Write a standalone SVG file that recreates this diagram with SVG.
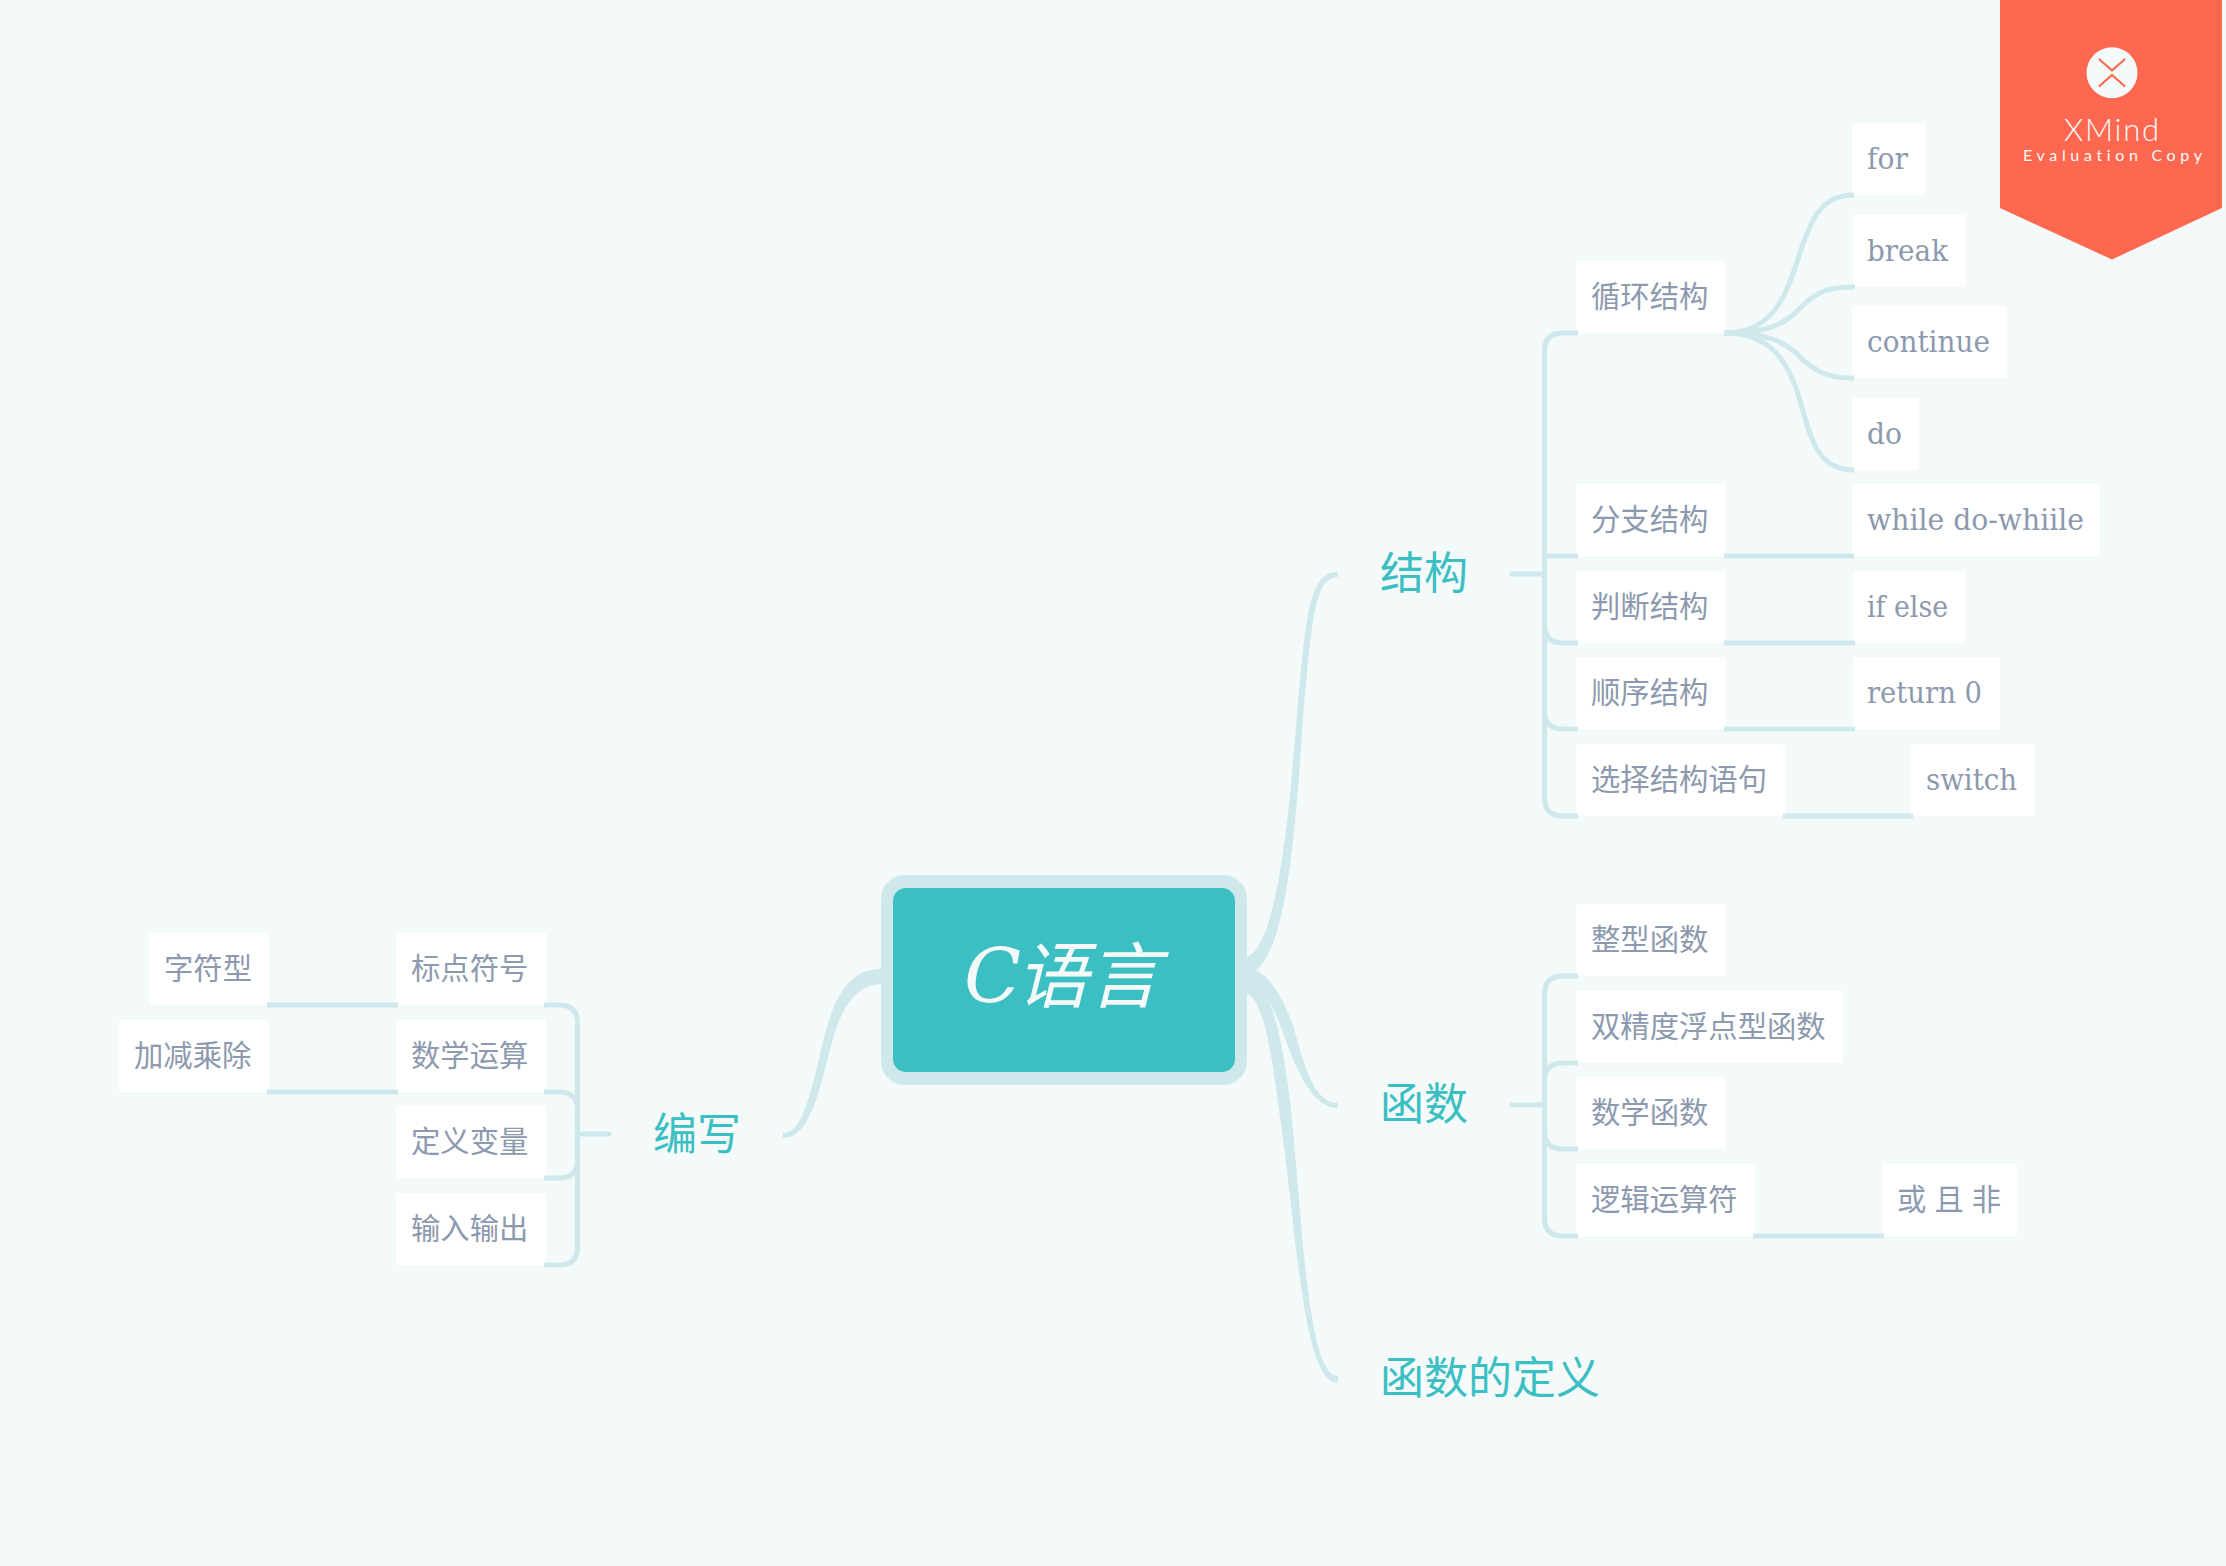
<svg xmlns="http://www.w3.org/2000/svg" width="2226" height="1566" viewBox="0 0 2226 1566">
<style>
.bg{fill:#f4faf9}
.box{fill:#ffffff}
.cn{fill:#8c99ae;font-family:"Noto Sans CJK SC","Noto Sans",sans-serif;font-size:29.33px;font-weight:400}
.la{fill:#8c99ae;font-family:"DejaVu Serif","Liberation Serif",serif;font-size:29.33px}
.topic{fill:#3bbfc3;font-family:"Noto Sans CJK SC","Noto Sans",sans-serif;font-size:44px;font-weight:400}
.root{fill:#f4faf9;font-size:74.67px;font-style:italic}
.line{fill:none;stroke:#cfe8eb;stroke-width:5}
.round{stroke-linecap:round}
.taper{fill:#cfe8eb}
.wm{fill:#f4faf9;font-family:Lato,"Open Sans",sans-serif;font-variant-ligatures:none}
</style>
<rect class="bg" x="0" y="0" width="2226" height="1566"/>
<g id="root"><rect x="881" y="875" width="366" height="210" rx="24" fill="#cfe8eb"/><rect x="893" y="888" width="342" height="184" rx="13" fill="#3bbfc3"/><text class="root" x="964" y="1002" font-family="'DejaVu Serif','Noto Sans CJK SC',serif">C<tspan x="1016" font-size="72" font-family="'Noto Sans CJK SC',sans-serif" font-weight="400">语言</tspan></text></g>
<g id="topic-jiegou"><text class="topic" x="1380" y="589">结构</text></g>
<g id="topic-hanshu"><text class="topic" x="1380" y="1120">函数</text></g>
<g id="topic-dingyi"><text class="topic" x="1380" y="1394">函数的定义</text></g>
<g id="topic-bianxie"><text class="topic" x="653" y="1150">编写</text></g>
<g id="n-for"><rect class="box" x="1852" y="123" width="74" height="72"/><text class="la" x="1867" y="169" textLength="41" lengthAdjust="spacingAndGlyphs">for</text></g>
<g id="n-break"><rect class="box" x="1853" y="215" width="113" height="72"/><text class="la" x="1867" y="261" textLength="81" lengthAdjust="spacingAndGlyphs">break</text></g>
<g id="n-continue"><rect class="box" x="1852" y="306" width="155" height="72"/><text class="la" x="1867" y="352" textLength="123" lengthAdjust="spacingAndGlyphs">continue</text></g>
<g id="n-do"><rect class="box" x="1852" y="398" width="67" height="72"/><text class="la" x="1867" y="444" textLength="35" lengthAdjust="spacingAndGlyphs">do</text></g>
<g id="n-xunhuan"><rect class="box" x="1576" y="261" width="150" height="72"/><text class="cn" x="1591" y="307">循环结构</text></g>
<g id="n-fenzhi"><rect class="box" x="1576" y="484" width="150" height="72"/><text class="cn" x="1591" y="530">分支结构</text></g>
<g id="n-while"><rect class="box" x="1852" y="484" width="248" height="72"/><text class="la" x="1867" y="530" textLength="217" lengthAdjust="spacingAndGlyphs">while do-whiile</text></g>
<g id="n-panduan"><rect class="box" x="1576" y="571" width="150" height="72"/><text class="cn" x="1591" y="617">判断结构</text></g>
<g id="n-ifelse"><rect class="box" x="1853" y="571" width="113" height="72"/><text class="la" x="1867" y="617" textLength="81" lengthAdjust="spacingAndGlyphs">if else</text></g>
<g id="n-shunxu"><rect class="box" x="1576" y="657" width="150" height="72"/><text class="cn" x="1591" y="703">顺序结构</text></g>
<g id="n-return"><rect class="box" x="1853" y="657" width="147" height="72"/><text class="la" x="1867" y="703" textLength="115" lengthAdjust="spacingAndGlyphs">return 0</text></g>
<g id="n-xuanze"><rect class="box" x="1576" y="744" width="209" height="72"/><text class="cn" x="1591" y="790">选择结构语句</text></g>
<g id="n-switch"><rect class="box" x="1911" y="744" width="123" height="72"/><text class="la" x="1926" y="790" textLength="91" lengthAdjust="spacingAndGlyphs">switch</text></g>
<g id="n-zhengxing"><rect class="box" x="1576" y="904" width="150" height="72"/><text class="cn" x="1591" y="950">整型函数</text></g>
<g id="n-shuangjingdu"><rect class="box" x="1576" y="991" width="267" height="72"/><text class="cn" x="1591" y="1037">双精度浮点型函数</text></g>
<g id="n-shuxuehanshu"><rect class="box" x="1576" y="1077" width="150" height="72"/><text class="cn" x="1591" y="1123">数学函数</text></g>
<g id="n-luoji"><rect class="box" x="1576" y="1164" width="179" height="72"/><text class="cn" x="1591" y="1210">逻辑运算符</text></g>
<g id="n-huoqiefei"><rect class="box" x="1882" y="1164" width="135" height="72"/><text class="cn" x="1897" y="1210" word-spacing="1.5">或 且 非</text></g>
<g id="n-zifuxing"><rect class="box" x="149" y="933" width="120" height="72"/><text class="cn" x="164" y="979">字符型</text></g>
<g id="n-biaodian"><rect class="box" x="396" y="933" width="150" height="72"/><text class="cn" x="411" y="979">标点符号</text></g>
<g id="n-jiajian"><rect class="box" x="119" y="1020" width="150" height="72"/><text class="cn" x="134" y="1066">加减乘除</text></g>
<g id="n-shuxueyunsuan"><rect class="box" x="396" y="1020" width="150" height="72"/><text class="cn" x="411" y="1066">数学运算</text></g>
<g id="n-dingyibianliang"><rect class="box" x="396" y="1106" width="150" height="72"/><text class="cn" x="411" y="1152">定义变量</text></g>
<g id="n-shuru"><rect class="box" x="396" y="1193" width="150" height="72"/><text class="cn" x="411" y="1239">输入输出</text></g>
<g id="connectors">
<path class="taper" d="M1338,572C1310,572 1306,610 1297,715C1288,830 1276,945 1247,957L1247,975C1285,965 1294,850 1303,720C1312,612 1316,577 1338,577Z"/>
<path class="taper" d="M1247,968C1270,970 1283,1000 1293,1025C1303,1060 1312,1103 1338,1103L1338,1108C1308,1108 1293,1058 1280,1025C1270,1000 1262,987 1247,985Z"/>
<path class="taper" d="M1247,975C1270,985 1282,1030 1291,1110C1303,1230 1308,1376 1338,1376L1338,1383C1302,1383 1297,1230 1279,1110C1270,1040 1262,1000 1247,994Z"/>
<path class="taper" d="M881,969C850,969 836,995 826,1030C812,1085 805,1133 783,1133L783,1138C812,1138 820,1085 834,1035C845,1000 860,985 881,984Z"/>
<path class="line round" d="M1512,574H1544"/>
<path class="line" d="M1578,333H1563Q1544.5,333 1544.5,351V798Q1544.5,816 1563,816H1578"/>
<path class="line" d="M1544.5,556H1578"/>
<path class="line" d="M1544.5,625Q1544.5,643 1563,643H1578"/>
<path class="line" d="M1544.5,711Q1544.5,729 1563,729H1578"/>
<path class="line" d="M1724,556H1854"/>
<path class="line" d="M1724,643H1855"/>
<path class="line" d="M1724,729H1855"/>
<path class="line" d="M1783,816H1913"/>
<path class="line" d="M1724,333C1770,333 1785,300 1797,262C1810,220 1820,195 1854,195"/>
<path class="line" d="M1724,333C1765,333 1785,326 1803,305C1820,290 1830,287 1855,287"/>
<path class="line" d="M1724,333C1765,333 1785,340 1803,360C1820,374 1830,378 1854,378"/>
<path class="line" d="M1724,333C1770,333 1788,360 1800,400C1812,445 1820,470 1854,470"/>
<path class="line round" d="M1512,1105H1544"/>
<path class="line" d="M1578,976H1563Q1544.5,976 1544.5,994V1218Q1544.5,1236 1563,1236H1578"/>
<path class="line" d="M1578,1063H1563Q1544.5,1063 1544.5,1081"/>
<path class="line" d="M1544.5,1131Q1544.5,1149 1563,1149H1578"/>
<path class="line" d="M1753,1236H1884"/>
<path class="line round" d="M577,1134H609"/>
<path class="line" d="M544,1005H559Q577.5,1005 577.5,1023V1247Q577.5,1265 559,1265H544"/>
<path class="line" d="M544,1092H559Q577.5,1092 577.5,1110"/>
<path class="line" d="M577.5,1160Q577.5,1178 559,1178H544"/>
<path class="line" d="M267,1005H398"/>
<path class="line" d="M267,1092H398"/>
</g>
<g id="watermark">
<polygon points="2000,0 2222,0 2222,208 2112,259.5 2000,208" fill="#ff6850"/>
<circle cx="2112" cy="72.7" r="25.5" fill="#f4faf9"/>
<path d="M2099.5,59.5L2112,70.5L2124.5,59.5M2099.5,86L2112,75L2124.5,86" fill="none" stroke="#ff6850" stroke-width="2.2" stroke-linecap="round" stroke-linejoin="round"/>
<text class="wm" x="2064" y="141" font-size="31" font-weight="300" textLength="95" lengthAdjust="spacing">XMind</text>
<text class="wm" x="2023" y="161" font-size="16" font-weight="400" textLength="179" lengthAdjust="spacing">Evaluation Copy</text>
</g>
</svg>
